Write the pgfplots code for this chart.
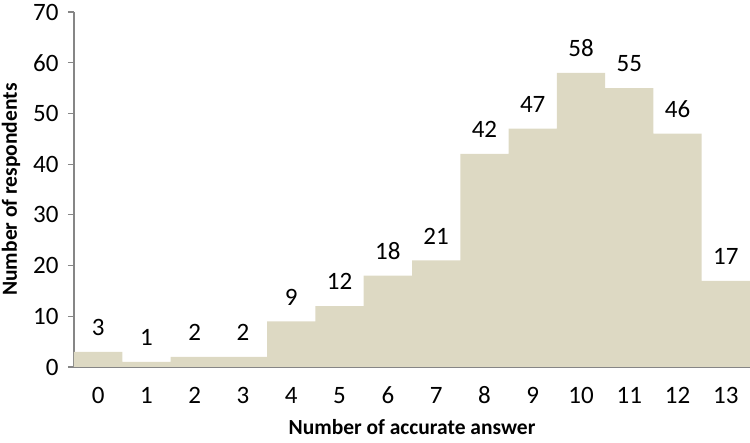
\documentclass[border=0pt]{standalone}
\usepackage{pgfplots}
\pgfplotsset{compat=1.18}
\usetikzlibrary{calc}
\usepackage{fontspec}
\setmainfont{Carlito}

\definecolor{barfill}{HTML}{DDD9C3}
\definecolor{axisgray}{HTML}{868686}

\begin{document}
\begin{tikzpicture}
\begin{axis}[
  scale only axis, width=676pt, height=355pt,
  xmin=-0.5, xmax=13.5, ymin=0, ymax=70,
  axis lines=left, axis line style={axisgray, line width=1.2pt, -},
  ybar, bar width=1, bar shift=0pt,
  xtick=data, ytick={0,10,...,70},
  major x tick style={draw=none},
  major y tick style={axisgray, line width=1.2pt},
  tick align=outside, major tick length=6pt,
  ticklabel style={font=\fontsize{25}{28}\selectfont},
  yticklabel style={anchor=east, xshift=-6pt},
  xticklabel style={anchor=base, yshift=-31pt},
  /pgf/number format/assume math mode=true,
  xlabel={\bfseries Number of accurate answer},
  ylabel={\bfseries Number of respondents},
  label style={font=\fontsize{21.5}{24}\selectfont},
  xlabel style={at={($(axis description cs:0.5,0)+(0pt,-68pt)$)}, anchor=base},
  ylabel style={at={($(axis description cs:0,0.5)+(-57pt,0pt)$)}, anchor=base},
  nodes near coords,
  every node near coord/.append style={font=\fontsize{25}{28}\selectfont,
    inner sep=0pt, anchor=south, yshift=16pt},
]
\addplot[fill=barfill, draw=none] coordinates {
  (0,3) (1,1) (2,2) (3,2) (4,9) (5,12) (6,18) (7,21)
  (8,42) (9,47) (10,58) (11,55) (12,46) (13,17)
};
\end{axis}
\pgfresetboundingbox
\useasboundingbox ($(current axis.south west)+(-74pt,-76pt)$) rectangle ($(current axis.north east)+(0pt,12pt)$);
\end{tikzpicture}
\end{document}
